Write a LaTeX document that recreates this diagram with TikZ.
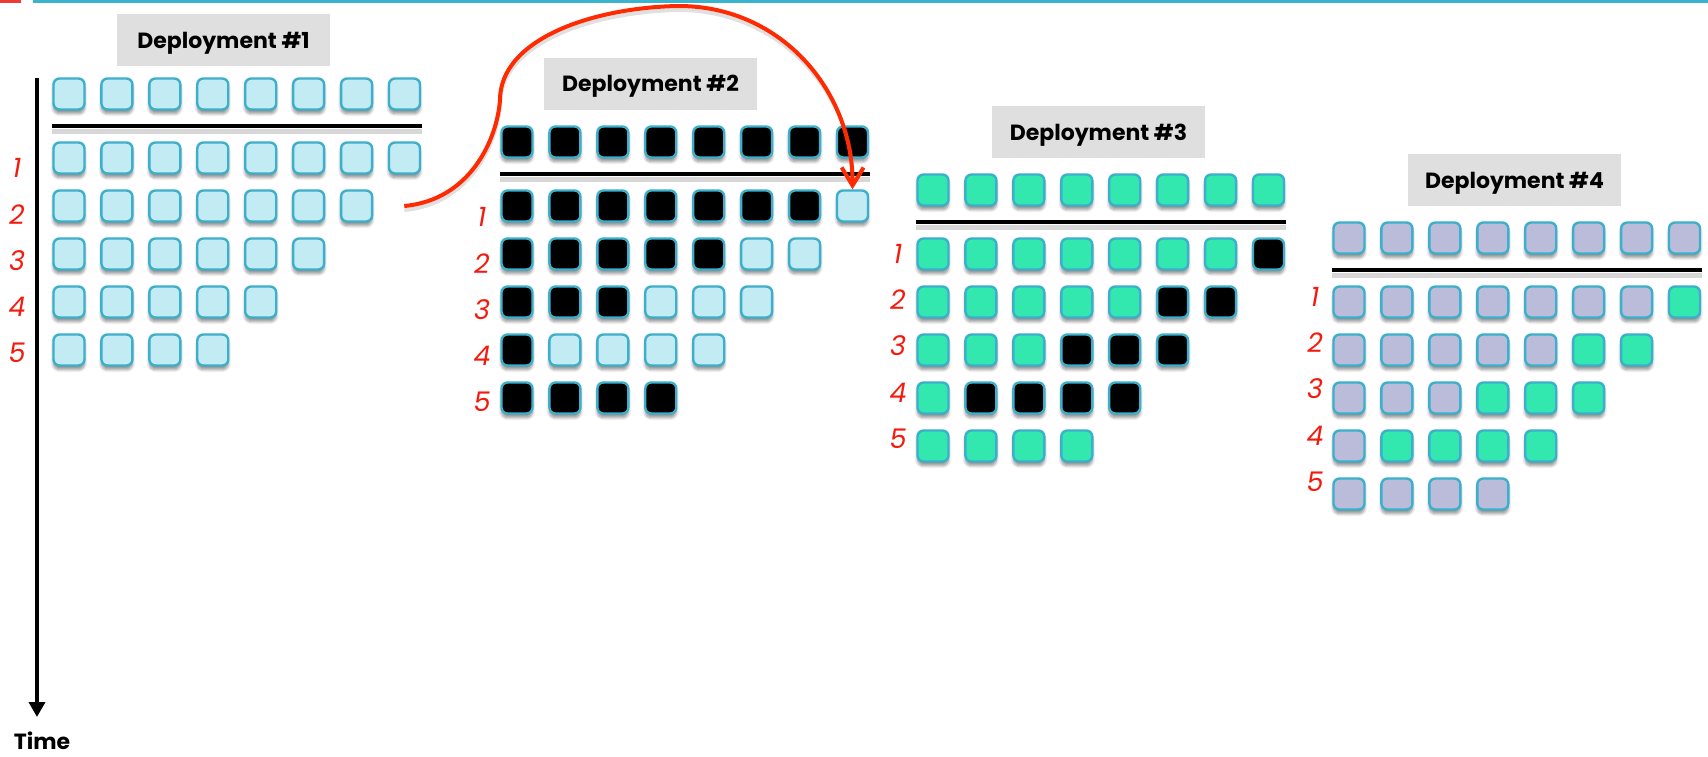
\documentclass[tikz,border=0pt]{standalone}
\usepackage{fontspec}
\setmainfont{Poppins}
\usetikzlibrary{shadows.blur,arrows.meta}
\definecolor{sqblue}{HTML}{C2EBF4}
\definecolor{sqedge}{HTML}{3BAFCB}
\definecolor{sqgreen}{HTML}{33E8AE}
\definecolor{sqlav}{HTML}{BABCDA}
\definecolor{lblgray}{HTML}{DFDFDF}
\definecolor{topred}{HTML}{EE3B36}
\definecolor{topteal}{HTML}{3AB3CC}
\definecolor{numred}{HTML}{F41A0E}
\definecolor{curvered}{HTML}{FF2A00}
\tikzset{
  sq/.style={draw=sqedge, line width=2.4pt, rounded corners=6pt, minimum size=31pt, inner sep=0pt,
    blur shadow={shadow xshift=0pt, shadow yshift=-4pt, shadow blur radius=3pt, shadow blur steps=6, shadow opacity=45}},
  dbox/.style={fill=lblgray, minimum width=213pt, minimum height=52pt, inner sep=0pt,
    font=\fontsize{22}{24}\selectfont\bfseries, text height=16pt, text depth=0pt},
  num/.style={text=numred, font=\fontsize{27}{30}\selectfont\itshape, inner sep=0pt},
  hline/.style={line width=3.5pt, black},
  hshadow/.style={line width=5pt, black!35, opacity=0.45},
  axis/.style={line width=3.5pt, black, -{Triangle[length=15pt,width=16pt]}},
  redcurve/.style={line width=4pt, curvered, -{Straight Barb[length=18pt,width=22pt]}},
  cshadow/.style={line width=4pt, black!40, opacity=0.3},
  timelbl/.style={font=\fontsize{22}{24}\selectfont\bfseries, inner sep=0pt, anchor=base}
}
\begin{document}
\begin{tikzpicture}[x=1pt,y=-1pt]
\useasboundingbox (0,0) rectangle (1708,756);
% top bars
\fill[topred] (0,0) rectangle (21,3);
\fill[topteal] (33,0) rectangle (1708,3);

% deployment labels
\node[dbox] (lab1) at (223.5,40) {Deployment \#1};
\node[dbox] (lab2) at (650.5,83.5) {Deployment \#2};
\node[dbox] (lab3) at (1098.5,132) {Deployment \#3};
\node[dbox] (lab4) at (1514.5,180) {Deployment \#4};

% grids
\foreach \d/\xo/\yo/\ca/\cb/\lx/\ly in {
   1/69/94/sqblue/sqblue/17/168,
   2/517/142/black/sqblue/482/217,
   3/933/190/sqgreen/black/898/253.5,
   4/1349/238/sqlav/sqgreen/1315/296.5} {
  \foreach \c in {1,...,8}
    \node[sq, fill=\ca] (d\d r0c\c) at ({\xo+(\c-1)*47.93}, \yo) {};
  \draw[hshadow] ({\xo-17}, {\yo+37}) -- ({\xo+7*47.93+17}, {\yo+37});
  \draw[hline] ({\xo-17}, {\yo+32}) -- ({\xo+7*47.93+17}, {\yo+32});
  \foreach \r/\n/\a in {1/8/7, 2/7/5, 3/6/3, 4/5/1, 5/4/4} {
    \node[num] (d\d n\r) at (\lx, {\ly+46.3*(\r-1)}) {\r};
    \foreach \c in {1,...,\n} {
      \ifnum\c>\a\relax \def\cc{\cb}\else\def\cc{\ca}\fi
      \node[sq, fill=\cc] (d\d r\r c\c) at ({\xo+(\c-1)*47.93}, {\yo+16+48*\r}) {};
    }
  }
}

% time axis
\coordinate (tstart) at (37,78);
\coordinate (tend) at (37,717);
\draw[axis] (tstart) -- (tend);
\node[timelbl] (time) at (42,749) {Time};

% red curve
\coordinate (cstart) at ([xshift=31pt]d1r2c7.east);
\draw[cshadow] ([yshift=-4pt]cstart) .. controls (470,204) and (497,144) .. (500,104)
  .. controls (500,44) and (590,12) .. (677,10)
  .. controls (780,9) and (853,94) .. ([yshift=10pt]d2r1c8.north);
\draw[redcurve] (cstart) .. controls (470,200) and (497,140) .. (500,100)
  .. controls (500,40) and (590,8) .. (677,6)
  .. controls (780,5) and (853,90) .. (d2r1c8.north);
\end{tikzpicture}
\end{document}
